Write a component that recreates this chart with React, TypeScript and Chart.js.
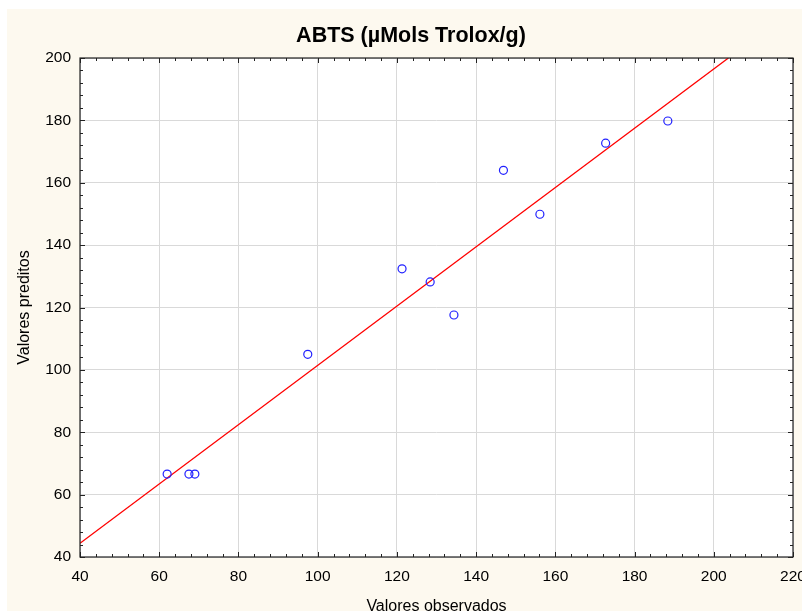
import React, { useEffect, useRef } from "react";
import { Chart, registerables } from "chart.js";

Chart.register(...registerables);

const observed = [62.0, 67.5, 69.0, 97.5, 121.3, 128.4, 134.4, 146.9, 156.1, 172.7, 188.4];
const predicted = [66.6, 66.6, 66.6, 105.0, 132.4, 128.2, 117.6, 164.0, 149.9, 172.7, 179.8];
const fitX = [40, 203.7];
const fitY = [44.4, 200];

const titleText = "ABTS (µMols Trolox/g)";
const xTitle = "Valores observados";
const yTitle = "Valores preditos";
const xRange = [40, 220];
const yRange = [40, 200];

const FONT = "'Liberation Sans', Arial, sans-serif";
const W = 795;
const H = 602;

const decorPlugin = {
  id: "decor",
  beforeDraw(chart: any) {
    const { ctx, chartArea } = chart;
    ctx.save();
    ctx.fillStyle = "#fdf9ef";
    ctx.fillRect(0, 0, chart.width, chart.height);
    ctx.fillStyle = "#ffffff";
    ctx.fillRect(chartArea.left, chartArea.top, chartArea.right - chartArea.left, chartArea.bottom - chartArea.top);
    ctx.restore();
  },
  afterDraw(chart: any) {
    const { ctx, chartArea, scales } = chart;
    const { left, right, top, bottom } = chartArea;
    ctx.save();
    ctx.strokeStyle = "#222222";
    ctx.lineWidth = 1.2;
    ctx.strokeRect(left, top, right - left, bottom - top);
    ctx.lineWidth = 1;
    const xs = scales.x;
    for (let v = xs.min; v <= xs.max + 0.001; v += 4) {
      const len = Math.abs(v % 20) < 0.01 ? 5 : 3;
      const px = Math.round(xs.getPixelForValue(v)) + 0.5;
      ctx.beginPath();
      ctx.moveTo(px, bottom);
      ctx.lineTo(px, bottom - len);
      ctx.moveTo(px, top);
      ctx.lineTo(px, top + len);
      ctx.stroke();
    }
    const ys = scales.y;
    for (let v = ys.min; v <= ys.max + 0.001; v += 4) {
      const len = Math.abs(v % 20) < 0.01 ? 5 : 3;
      const py = Math.round(ys.getPixelForValue(v)) + 0.5;
      ctx.beginPath();
      ctx.moveTo(left, py);
      ctx.lineTo(left + len, py);
      ctx.moveTo(right, py);
      ctx.lineTo(right - len, py);
      ctx.stroke();
    }
    ctx.fillStyle = "#000000";
    ctx.font = `bold 21.5px ${FONT}`;
    ctx.textAlign = "center";
    ctx.textBaseline = "alphabetic";
    ctx.fillText(titleText, 404, 32.5);
    ctx.font = `16px ${FONT}`;
    ctx.fillText(xTitle, (left + right) / 2, 602);
    ctx.save();
    ctx.translate(21.5, (top + bottom) / 2);
    ctx.rotate(-Math.PI / 2);
    ctx.fillText(yTitle, 0, 0);
    ctx.restore();
    ctx.restore();
  },
};

export default function App() {
  const ref = useRef<HTMLCanvasElement | null>(null);
  useEffect(() => {
    if (!ref.current) return;
    const points = observed.map((x, i) => ({ x, y: predicted[i] }));
    const line = fitX.map((x, i) => ({ x, y: fitY[i] }));
    const chart = new Chart(ref.current, {
      type: "scatter",
      data: {
        datasets: [
          {
            type: "line",
            data: line,
            borderColor: "#ff0000",
            borderWidth: 1.3,
            pointRadius: 0,
            fill: false,
            order: 2,
          } as any,
          {
            type: "scatter",
            data: points,
            borderColor: "#2020ff",
            backgroundColor: "rgba(0,0,0,0)",
            borderWidth: 1.2,
            pointRadius: 4,
            order: 1,
          },
        ],
      },
      options: {
        animation: false,
        responsive: false,
        layout: { padding: { top: 49, right: 9, bottom: 0, left: 0 } },
        plugins: { legend: { display: false }, tooltip: { enabled: false }, title: { display: false } },
        scales: {
          x: {
            type: "linear",
            min: xRange[0],
            max: xRange[1],
            border: { display: false },
            grid: { color: "#d9d9d9", lineWidth: 1, drawTicks: false },
            ticks: { stepSize: 20, padding: 10, color: "#000", font: { family: FONT, size: 15.5 } },
            afterFit(s: any) {
              s.height = 54;
              s.paddingLeft = 0;
              s.paddingRight = 0;
            },
          },
          y: {
            type: "linear",
            min: yRange[0],
            max: yRange[1],
            border: { display: false },
            grid: { color: "#d9d9d9", lineWidth: 1, drawTicks: false },
            ticks: { stepSize: 20, padding: 9, color: "#000", font: { family: FONT, size: 15.5 } },
            afterFit(s: any) {
              s.width = 73;
              s.paddingTop = 0;
              s.paddingBottom = 0;
            },
          },
        },
      } as any,
      plugins: [decorPlugin],
    });
    return () => chart.destroy();
  }, []);
  return (
    <div style={{ position: "fixed", left: 7, top: 9, width: W, height: H }}>
      <canvas ref={ref} width={W} height={H} style={{ display: "block" }} />
    </div>
  );
}
